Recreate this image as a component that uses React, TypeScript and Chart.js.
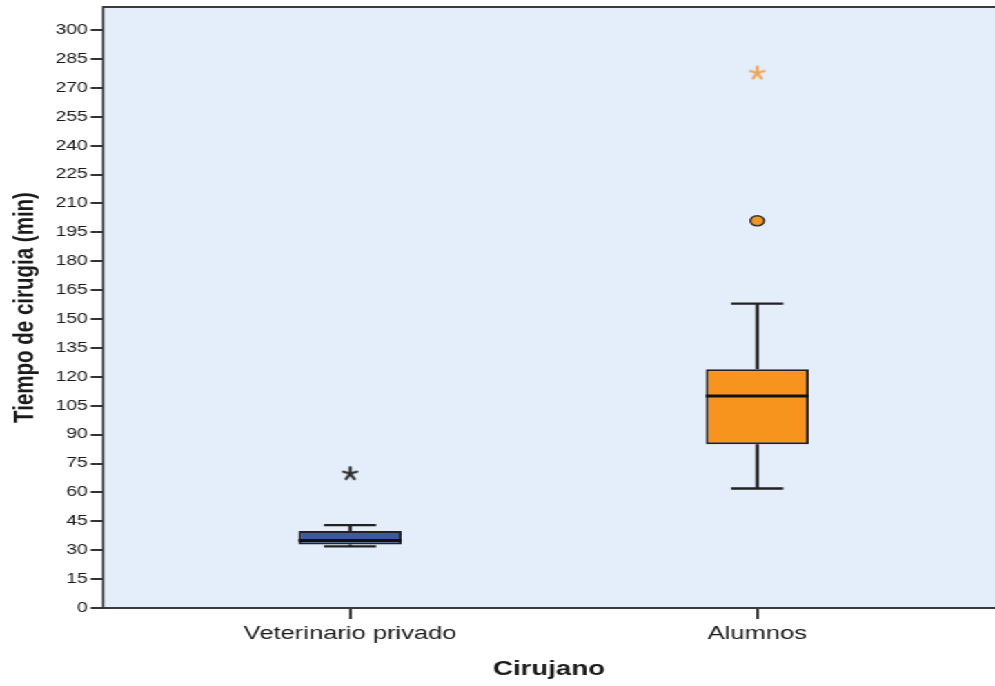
import { useEffect, useRef } from 'react';
import { Chart, registerables } from 'chart.js';

Chart.register(...registerables);

// ---- data ----
const categories = ['Veterinario privado', 'Alumnos'];
const whiskerLow = [32, 62];
const q1 = [33, 85];
const median = [35, 110];
const q3 = [40, 124];
const whiskerHigh = [43, 158];
const outlierCat = [1];
const outlierVal = [201];
const extremeCat = [0, 1];
const extremeVal = [70, 278];
const yTicks = [0, 15, 30, 45, 60, 75, 90, 105, 120, 135, 150, 165, 180, 195, 210, 225, 240, 255, 270, 285, 300];

// ---- styles ----
const boxColors = ['#3F56A6', '#F7941D'];
const extremeColors = ['#2E2E2E', '#F5A34C'];
const plotBg = '#E3EEFA';
const lineColor = '#222222';
const frameColor = '#3A3A3A';
const textColor = '#1A1A1A';
const FONT = "'Liberation Sans', Arial, Helvetica, sans-serif";

const W = 995;
const H = 686;
const IW = 721; // internal width; page stretches horizontally like the reference
const STRETCH = W / IW;
const BOX_HALF = 0.1265;
const CAP_HALF = 0.064;

function asteriskImage(color: string): HTMLCanvasElement {
  const c = document.createElement('canvas');
  c.width = 18;
  c.height = 18;
  const ctx = c.getContext('2d')!;
  ctx.strokeStyle = color;
  ctx.lineWidth = 2.2;
  ctx.lineCap = 'round';
  const r = 6.5;
  const cx = 9;
  const cy = 9.6;
  for (let k = 0; k < 5; k++) {
    const a = -Math.PI / 2 + (k * 2 * Math.PI) / 5;
    ctx.beginPath();
    ctx.moveTo(cx, cy);
    ctx.lineTo(cx + r * Math.cos(a) * 0.8, cy + r * Math.sin(a));
    ctx.stroke();
  }
  return c;
}

const boxPlugin = {
  id: 'boxParts',
  beforeDraw(chart: any) {
    const { ctx, chartArea } = chart;
    ctx.save();
    ctx.fillStyle = plotBg;
    ctx.fillRect(chartArea.left, chartArea.top, chartArea.right - chartArea.left, chartArea.bottom - chartArea.top);
    ctx.restore();
  },
  beforeDatasetsDraw(chart: any) {
    const { ctx } = chart;
    const xs = chart.scales.x;
    const ys = chart.scales.y;
    ctx.save();
    ctx.strokeStyle = lineColor;
    ctx.lineWidth = 2.4;
    categories.forEach((_, i) => {
      const xc = xs.getPixelForValue(i + 1);
      const xl = xs.getPixelForValue(i + 1 - CAP_HALF);
      const xr = xs.getPixelForValue(i + 1 + CAP_HALF);
      const yLo = ys.getPixelForValue(whiskerLow[i]);
      const yQ1 = ys.getPixelForValue(q1[i]);
      const yQ3 = ys.getPixelForValue(q3[i]);
      const yHi = ys.getPixelForValue(whiskerHigh[i]);
      ctx.beginPath();
      ctx.moveTo(xc, yLo);
      ctx.lineTo(xc, yQ1);
      ctx.moveTo(xc, yQ3);
      ctx.lineTo(xc, yHi);
      ctx.moveTo(xl, yLo);
      ctx.lineTo(xr, yLo);
      ctx.moveTo(xl, yHi);
      ctx.lineTo(xr, yHi);
      ctx.stroke();
    });
    ctx.restore();
  },
  afterDatasetsDraw(chart: any) {
    const { ctx } = chart;
    const xs = chart.scales.x;
    const ys = chart.scales.y;
    ctx.save();
    ctx.strokeStyle = '#111';
    ctx.lineWidth = 3;
    categories.forEach((_, i) => {
      const xl = xs.getPixelForValue(i + 1 - BOX_HALF);
      const xr = xs.getPixelForValue(i + 1 + BOX_HALF);
      const ym = ys.getPixelForValue(median[i]);
      ctx.beginPath();
      ctx.moveTo(xl, ym);
      ctx.lineTo(xr, ym);
      ctx.stroke();
    });
    ctx.restore();
  },
  afterDraw(chart: any) {
    const { ctx, chartArea } = chart;
    ctx.save();
    ctx.strokeStyle = frameColor;
    ctx.lineWidth = 2;
    ctx.beginPath();
    ctx.moveTo(chartArea.left, chartArea.top);
    ctx.lineTo(chartArea.right, chartArea.top);
    ctx.moveTo(chartArea.left, chartArea.bottom);
    ctx.lineTo(chartArea.right, chartArea.bottom);
    ctx.stroke();
    ctx.lineWidth = 1.6;
    ctx.beginPath();
    ctx.moveTo(chartArea.left, chartArea.top - 1);
    ctx.lineTo(chartArea.left, chartArea.bottom + 1);
    ctx.stroke();
    ctx.restore();
  },
};

export default function App() {
  const ref = useRef<HTMLCanvasElement>(null);

  useEffect(() => {
    Chart.defaults.font.family = FONT;
    const stars = extremeCat.map((c) => asteriskImage(extremeColors[c]));
    const chart = new Chart(ref.current!, {
      type: 'scatter',
      data: {
        datasets: [
          {
            type: 'bar',
            data: categories.map((_, i) => ({ x: i + 1, y: [q1[i], q3[i]] })) as any,
            backgroundColor: boxColors,
            borderColor: lineColor,
            borderWidth: 2,
            borderSkipped: false,
            categoryPercentage: 1,
            barPercentage: BOX_HALF * 2,
          } as any,
          {
            type: 'scatter',
            data: outlierCat.map((c, i) => ({ x: c + 1, y: outlierVal[i] })),
            pointStyle: 'circle',
            pointRadius: 5,
            pointBackgroundColor: outlierCat.map((c) => boxColors[c]),
            pointBorderColor: '#333',
            pointBorderWidth: 1.5,
          },
          {
            type: 'scatter',
            data: extremeCat.map((c, i) => ({ x: c + 1, y: extremeVal[i] })),
            pointStyle: stars as any,
            pointRadius: 7,
          },
        ],
      },
      options: {
        animation: false,
        responsive: true,
        maintainAspectRatio: false,
        layout: { autoPadding: false, padding: { top: 7, left: 0, right: 0, bottom: 0 } },
        plugins: { legend: { display: false }, tooltip: { enabled: false } },
        scales: {
          x: {
            type: 'linear',
            min: 0.393,
            max: 2.584,
            offset: false,
            afterBuildTicks: (s: any) => {
              s.ticks = categories.map((_, i) => ({ value: i + 1 }));
            },
            afterFit: (s: any) => {
              s.height = H - 608;
              s.paddingLeft = 0;
              s.paddingRight = 0;
            },
            ticks: {
              callback: (v: any) => categories[Number(v) - 1] ?? '',
              font: { size: 18.5 },
              color: textColor,
              padding: 4,
              maxRotation: 0,
              autoSkip: false,
            },
            grid: {
              drawOnChartArea: false,
              drawTicks: true,
              tickLength: 11,
              color: '#333',
              lineWidth: 2,
              offset: false,
            },
            border: { display: false },
            title: {
              display: true,
              text: 'Cirujano',
              font: { size: 20, weight: 'bold' },
              color: textColor,
              padding: { top: 0, bottom: 5 },
            },
          },
          y: {
            type: 'linear',
            min: 0,
            max: 312,
            afterBuildTicks: (s: any) => {
              s.ticks = yTicks.map((v) => ({ value: v }));
            },
            afterFit: (s: any) => {
              s.width = 103 / STRETCH;
              s.paddingTop = 0;
              s.paddingBottom = 0;
            },
            ticks: {
              font: { size: 14 },
              color: textColor,
              padding: 2,
            },
            grid: {
              drawOnChartArea: false,
              drawTicks: true,
              tickLength: 9,
              color: '#333',
              lineWidth: 2,
            },
            border: { display: false },
            title: {
              display: true,
              text: 'Tiempo de cirugia (min)',
              font: { size: 20.5, weight: 'bold' },
              color: textColor,
              padding: { top: 6, bottom: 0 },
            },
          },
        },
      },
      plugins: [boxPlugin],
    } as any);
    return () => chart.destroy();
  }, []);

  return (
    <div
      style={{
        position: 'absolute',
        left: 0,
        top: 0,
        width: IW,
        height: H,
        transform: `scaleX(${STRETCH})`,
        transformOrigin: '0 0',
        background: '#fff',
      }}
    >
      <canvas ref={ref} />
    </div>
  );
}
